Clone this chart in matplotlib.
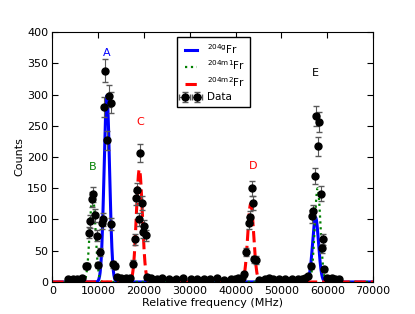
import numpy as np
import matplotlib
matplotlib.use('Agg')
import matplotlib.pyplot as plt

# Measured data (relative frequency in MHz, counts)
freq = [3380, 4550, 5420, 6510, 7390, 7680, 8040, 8330, 8620, 8910,
        9350, 9650, 10080, 10440, 10810, 11090, 11240, 11610, 11970, 12410,
        12770, 12900, 13210, 13710, 14150, 14890, 16050, 16920, 17510, 17950,
        18300, 18520, 18820, 19100, 19480, 19700, 20050, 20410, 20700, 21500,
        22820, 23980, 25440, 26900, 28430, 30170, 31480, 33010, 34390, 35980,
        37510, 38970, 39850, 40580, 41380, 41890, 42250, 42830, 43120, 43490,
        43710, 44000, 44360, 45160, 46400, 47270, 48210, 49520, 50830, 52230,
        53680, 54410, 55200, 55850, 56370, 56730, 56950, 57310, 57530, 57900,
        58100, 58550, 58840, 59060, 59210, 59930, 60960, 61690, 62630]
counts = [4, 4, 4, 7, 25, 26, 79, 97, 132, 140,
          107, 74, 27, 48, 95, 100, 280, 338, 227, 298,
          287, 92, 28, 26, 8, 7, 7, 7, 29, 68,
          134, 147, 100, 206, 126, 80, 89, 75, 8, 6,
          5, 6, 4, 5, 6, 4, 4, 5, 4, 7,
          3, 4, 5, 6, 7, 12, 48, 95, 104, 150,
          127, 36, 35, 3, 5, 6, 5, 4, 4, 4,
          4, 5, 7, 10, 25, 105, 113, 169, 266, 217,
          256, 141, 54, 68, 20, 7, 6, 5, 5]

# Fitted peaks: centre (MHz), height (counts), width sigma (MHz)
g_centre = [11900, 57450]
g_height = [298, 103]
g_sigma = [600, 650]
m1_centre = [8800, 57900]
m1_height = [140, 150]
m1_sigma = [620, 620]
m2_centre = [19000, 43300]
m2_height = [180, 125]
m2_sigma = [650, 650]

labels = ['A', 'B', 'C', 'D', 'E']
label_x = [11900, 8800, 19300, 43800, 57500]
label_y = [366, 184, 256, 186, 334]
label_col = ['blue', 'green', 'red', 'red', 'black']


def peaks(x, centres, heights, sigmas):
    y = np.zeros_like(x)
    for c, h, s in zip(centres, heights, sigmas):
        y += h * np.exp(-0.5 * ((x - c) / s) ** 2)
    return y


plt.rcParams['font.size'] = 8
plt.rcParams['mathtext.default'] = 'regular'

fig, ax = plt.subplots(figsize=(4.15, 3.14), dpi=100)
fig.subplots_adjust(left=0.126, right=0.899, bottom=0.102, top=0.898)

xf = np.linspace(0, 70000, 3000)
ax.plot(xf, peaks(xf, g_centre, g_height, g_sigma), color='blue', lw=2.2,
        label='$^{204g}$Fr')
ax.plot(xf, peaks(xf, m1_centre, m1_height, m1_sigma), color='green', lw=1.6,
        ls=':', label='$^{204m1}$Fr')
ax.plot(xf, peaks(xf, m2_centre, m2_height, m2_sigma), color='red', lw=2.2,
        ls='--', label='$^{204m2}$Fr')

c = np.array(counts, dtype=float)
ax.errorbar(freq, c, yerr=np.sqrt(c), xerr=np.zeros_like(c), fmt='o',
            color='black', ecolor='0.35', ms=5, capsize=2, elinewidth=0.8,
            label='Data')

for t, x, y, col in zip(labels, label_x, label_y, label_col):
    ax.text(x, y, t, color=col, ha='center', va='center', fontsize=8)

ax.set_xlim(0, 70000)
ax.set_ylim(0, 400)
ax.tick_params(direction='in', top=True, right=True, length=4, pad=3,
               labelsize=8)
ax.set_xlabel('Relative frequency (MHz)', labelpad=1)
ax.set_ylabel('Counts', labelpad=2)
ax.legend(loc='upper left', bbox_to_anchor=(0.388, 0.98), borderaxespad=0,
          numpoints=2, fontsize=7.5, fancybox=False, handlelength=1.8,
          framealpha=1, edgecolor='black', borderpad=0.45, labelspacing=0.3,
          handletextpad=0.7)

fig.savefig('out.png', dpi=100)
